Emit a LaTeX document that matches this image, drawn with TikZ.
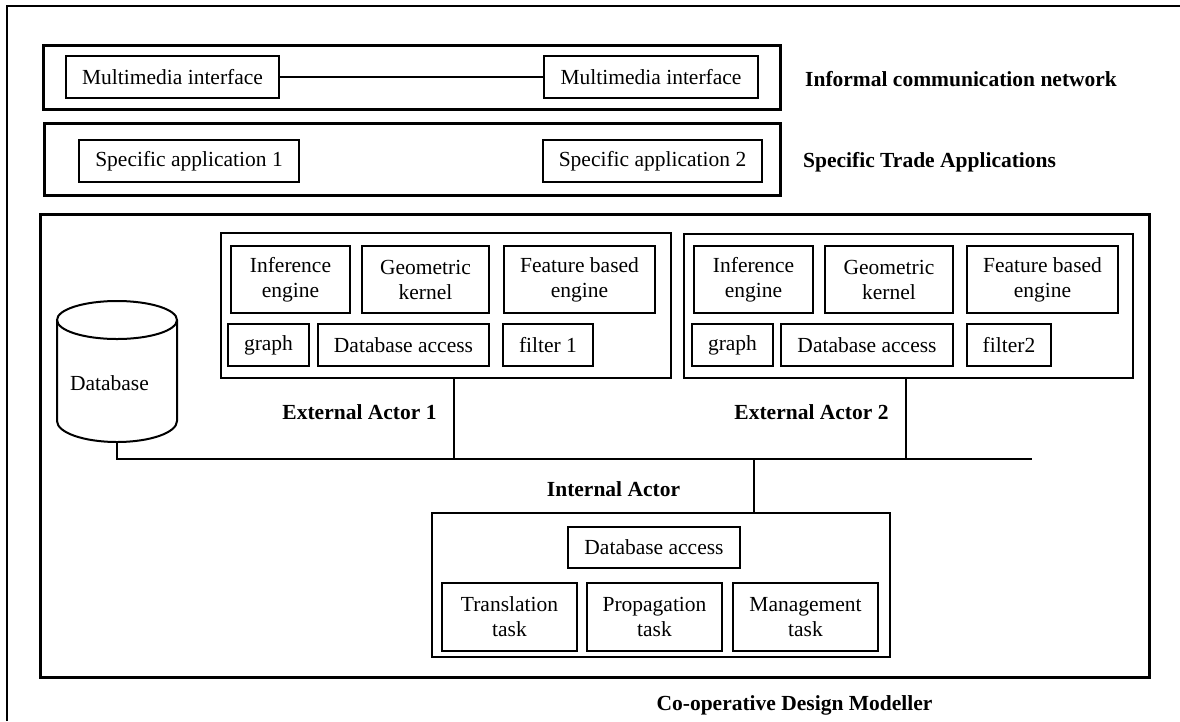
\documentclass[tikz,border=0pt]{standalone}
\usepackage{fontspec}
\setmainfont{Liberation Serif}
\begin{document}
\begin{tikzpicture}[x=1pt,y=-1pt,
  txt/.style={font=\fontsize{21.5}{25}\selectfont, align=center, inner sep=0pt},
  bx/.style={txt, draw, line width=2pt, rectangle},
  grp/.style={draw, line width=1.8pt, rectangle, inner sep=0pt},
  big/.style={draw, line width=3pt, rectangle, inner sep=0pt},
  lab/.style={txt, font=\fontsize{21.5}{25}\selectfont\bfseries},
  conn/.style={line width=2pt}]
\useasboundingbox (0,0) rectangle (1180,721);
% outer frame (cropped)
\draw[line width=2.5pt] (7,721) -- (7,6) -- (1180,6);

% Informal communication network
\node[big, minimum width=737, minimum height=64] (inf) at (411.5,77) {};
\node[bx, minimum width=213, minimum height=42] (mm1) at (172.5,77) {Multimedia interface};
\node[bx, minimum width=214, minimum height=42] (mm2) at (651,77) {Multimedia interface};
\draw[conn] (mm1.east) -- (mm2.west);
\node[lab, anchor=west] (linf) at (805,79) {Informal communication network};

% Specific trade applications
\node[big, minimum width=736, minimum height=72] (trade) at (412,159) {};
\node[bx, minimum width=220, minimum height=42] (sa1) at (189,161) {Specific application 1};
\node[bx, minimum width=219, minimum height=42] (sa2) at (652.5,161) {Specific application 2};
\node[lab, anchor=west] (ltrade) at (803,162) {Specific Trade Applications};

% Co-operative design modeller
\node[big, minimum width=1109, minimum height=463] (cdm) at (594.5,445.5) {};
\node[lab] (lcdm) at (794.5,705) {Co-operative Design Modeller};

% External actor 1
\node[grp, minimum width=450, minimum height=145] (ea1) at (446,305.5) {};
\node[bx, minimum width=119, minimum height=67] (ie1) at (290.5,279.5) {Inference\\engine};
\node[bx, minimum width=127, minimum height=67] (gk1) at (425.5,279.5) {Geometric\\kernel};
\node[bx, minimum width=151, minimum height=67] (fb1) at (579.5,279.5) {Feature based\\engine};
\node[bx, minimum width=81, minimum height=42] (gr1) at (268.5,345) {graph};
\node[bx, minimum width=171, minimum height=42] (da1) at (403.5,345) {Database access};
\node[bx, minimum width=90, minimum height=42] (f1) at (548,345) {filter 1};
\node[lab] (lea1) at (359.5,412) {External Actor 1};

% External actor 2
\node[grp, minimum width=449, minimum height=144] (ea2) at (908.5,306) {};
\node[bx, minimum width=119, minimum height=67] (ie2) at (753.5,279.5) {Inference\\engine};
\node[bx, minimum width=128, minimum height=67] (gk2) at (889,279.5) {Geometric\\kernel};
\node[bx, minimum width=151, minimum height=67] (fb2) at (1042.5,279.5) {Feature based\\engine};
\node[bx, minimum width=81, minimum height=42] (gr2) at (732.5,345) {graph};
\node[bx, minimum width=172, minimum height=42] (da2) at (867,345) {Database access};
\node[bx, minimum width=84, minimum height=42] (f2) at (1009,345) {filter2};
\node[lab] (lea2) at (811.5,412) {External Actor 2};

% Internal actor
\node[grp, minimum width=458, minimum height=144] (ia) at (661,585) {};
\node[bx, minimum width=172, minimum height=41] (dai) at (654,547.5) {Database access};
\node[bx, minimum width=135, minimum height=68] (tt) at (509.5,617) {Translation\\task};
\node[bx, minimum width=135, minimum height=68] (pt) at (654.5,617) {Propagation\\task};
\node[bx, minimum width=145, minimum height=68] (mt) at (805.5,617) {Management\\task};
\node[lab] (lia) at (613.5,489) {Internal Actor};

% Database cylinder
\draw[line width=2pt] (117,320) ellipse [x radius=60, y radius=19];
\draw[line width=2pt] (57,320) -- (57,421) arc[start angle=180, end angle=0, x radius=60, y radius=21] -- (177,320);
\node[txt] (db) at (109.5,383) {Database};
\coordinate (dbbot) at (117,442);

% bus
\coordinate (busL) at (117,459);
\coordinate (busR) at (1032,459);
\coordinate (j1) at (454,459);
\coordinate (j2) at (906,459);
\coordinate (j3) at (754,459);
\draw[conn] (dbbot) -- (busL) -- (busR);
\draw[conn] (ea1.south -| j1) -- (j1);
\draw[conn] (ea2.south -| j2) -- (j2);
\draw[conn] (j3) -- (ia.north -| j3);
\end{tikzpicture}
\end{document}
